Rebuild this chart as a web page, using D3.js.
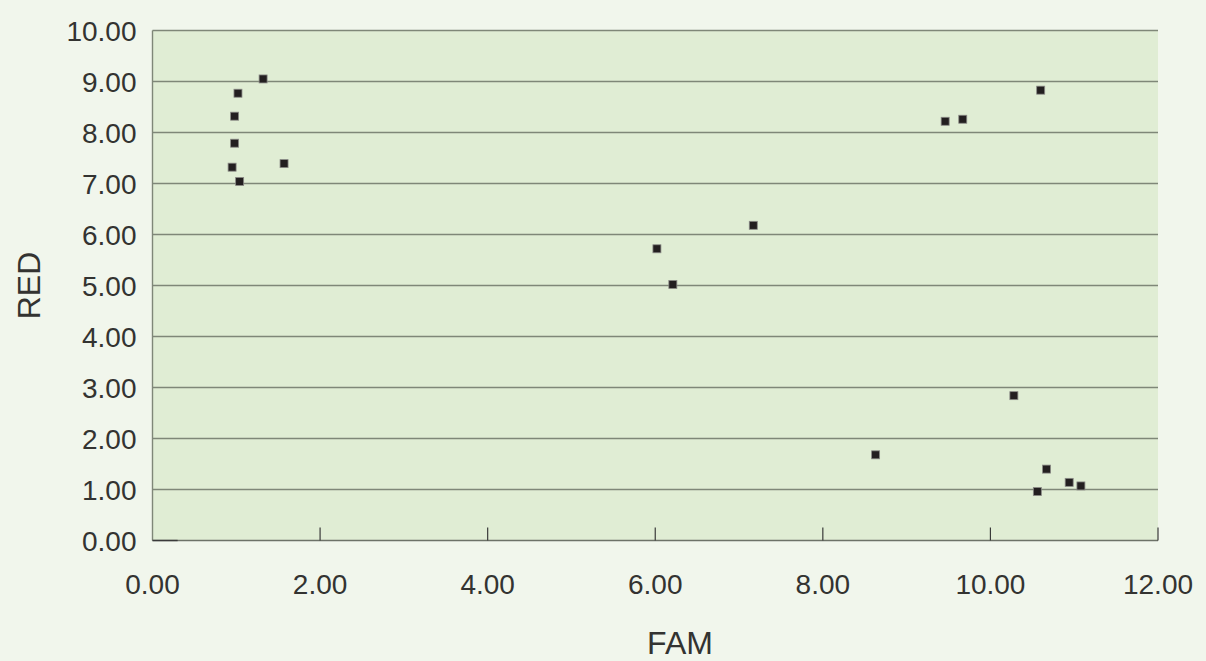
<!DOCTYPE html>
<html>
<head>
<meta charset="utf-8">
<script src="https://cdn.jsdelivr.net/npm/d3@7"></script>
<style>
  body { margin: 0; background: #f1f6ec; }
  text { font-family: "Liberation Sans", Arial, sans-serif; fill: #333331; }
</style>
</head>
<body>
<div id="chart"></div>
<script>
// data
let famValues = [1.32, 1.02, 0.98, 0.98, 0.95, 1.57, 1.04,
                 10.60, 9.46, 9.67,
                 7.17, 6.02, 6.21,
                 10.28, 10.67, 10.94, 11.08, 10.56,
                 8.63];
let redValues = [9.05, 8.77, 8.32, 7.79, 7.32, 7.39, 7.04,
                 8.83, 8.22, 8.26,
                 6.18, 5.72, 5.02,
                 2.84, 1.40, 1.14, 1.07, 0.96,
                 1.68];
let xTicks = [0, 2, 4, 6, 8, 10, 12];
let yTicks = [0, 1, 2, 3, 4, 5, 6, 7, 8, 9, 10];

const width = 1206, height = 661;
const margin = {top: 30.5, right: 48, bottom: 120.5, left: 152.5};
const innerW = width - margin.left - margin.right;
const innerH = height - margin.top - margin.bottom;

const svg = d3.select('#chart')
    .append('svg')
    .attr('width', width)
    .attr('height', height);

svg.append('rect')
    .attr('width', width).attr('height', height)
    .attr('fill', '#f1f6ec');

const g = svg.append('g')
    .attr('transform', `translate(${margin.left},${margin.top})`);

const x = d3.scaleLinear().domain([0, 12]).range([0, innerW]);
const y = d3.scaleLinear().domain([0, 10]).range([innerH, 0]);

// plot background
g.append('rect')
    .attr('width', innerW).attr('height', innerH)
    .attr('fill', '#e0edd4');

// horizontal gridlines
g.selectAll('.grid')
    .data(yTicks.filter(d => d > 0))
    .join('line')
    .attr('x1', 0).attr('x2', innerW)
    .attr('y1', d => y(d)).attr('y2', d => y(d))
    .attr('stroke', '#7f8778')
    .attr('stroke-width', 1.4);

// y axis labels
g.selectAll('.ylab')
    .data(yTicks)
    .join('text')
    .attr('x', -16)
    .attr('y', d => y(d))
    .attr('dy', '0.36em')
    .attr('text-anchor', 'end')
    .attr('font-size', 28)
    .text(d => d3.format('.2f')(d));

// left axis line
g.append('line')
    .attr('x1', 0).attr('x2', 0)
    .attr('y1', 0).attr('y2', innerH)
    .attr('stroke', '#7f8778').attr('stroke-width', 1.4);

// bottom axis line
g.append('line')
    .attr('x1', 0).attr('x2', innerW)
    .attr('y1', innerH).attr('y2', innerH)
    .attr('stroke', '#6d7268').attr('stroke-width', 1.4);
g.append('line')
    .attr('x1', 0).attr('x2', x(0.3))
    .attr('y1', innerH).attr('y2', innerH)
    .attr('stroke', '#3a3a3a').attr('stroke-width', 1.4);

// x ticks (pointing inward)
g.selectAll('.xtick')
    .data(xTicks.filter(d => d > 0))
    .join('line')
    .attr('x1', d => x(d)).attr('x2', d => x(d))
    .attr('y1', innerH).attr('y2', innerH - 13)
    .attr('stroke', '#3a3a3a').attr('stroke-width', 1.2);

// x axis labels
g.selectAll('.xlab')
    .data(xTicks)
    .join('text')
    .attr('x', d => x(d))
    .attr('y', innerH + 43)
    .attr('dy', '0.36em')
    .attr('text-anchor', 'middle')
    .attr('font-size', 28)
    .text(d => d3.format('.2f')(d));

// points
const pts = famValues.map((f, i) => ({fam: f, red: redValues[i]}));
g.selectAll('.pt')
    .data(pts)
    .join('rect')
    .attr('x', d => x(d.fam) - 4)
    .attr('y', d => y(d.red) - 4)
    .attr('width', 8).attr('height', 8)
    .attr('fill', '#231f20')
    .attr('stroke', '#8a8a86')
    .attr('stroke-width', 0.8);

// axis titles
svg.append('text')
    .attr('x', 680)
    .attr('y', 654)
    .attr('text-anchor', 'middle')
    .attr('font-size', 32)
    .text('FAM');

svg.append('text')
    .attr('transform', `translate(40,${margin.top + y(5)}) rotate(-90)`)
    .attr('text-anchor', 'middle')
    .attr('font-size', 32)
    .text('RED');
</script>
</body>
</html>
